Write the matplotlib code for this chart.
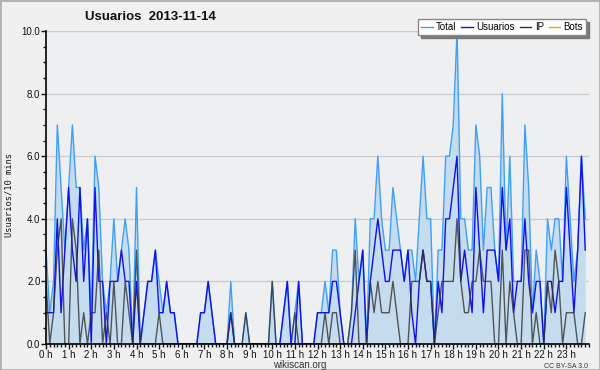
import numpy as np
import matplotlib.pyplot as plt
from matplotlib.ticker import MultipleLocator
from matplotlib.patches import Rectangle
from matplotlib.lines import Line2D

plt.rcParams['font.family'] = ['Liberation Sans', 'DejaVu Sans']

# values every 10 minutes, 144 slots
total = [3, 1, 2, 7, 5, 3, 5, 7, 5, 5, 3, 4, 1, 6, 5, 2, 1, 2, 4, 2, 3, 4, 3, 0,
         5, 0, 1, 2, 2, 3, 2, 1, 2, 1, 1, 0, 0, 0, 0, 0, 0, 1, 1, 2, 1, 0, 0, 0,
         0, 2, 0, 0, 0, 1, 0, 0, 0, 0, 0, 0, 2, 0, 0, 1, 2, 0, 1, 2, 0, 0, 0, 0,
         1, 1, 2, 1, 3, 3, 1, 0, 0, 1, 4, 2, 3, 0, 4, 4, 6, 4, 3, 3, 5, 4, 3, 2,
         3, 3, 2, 4, 6, 4, 4, 0, 3, 3, 6, 6, 7, 10, 4, 4, 3, 3, 7, 6, 3, 5, 5, 3,
         2, 8, 3, 6, 2, 2, 2, 7, 5, 1, 3, 2, 0, 4, 3, 4, 4, 2, 6, 4, 2, 3, 6, 4]
usuarios = [1, 1, 1, 4, 1, 3, 5, 3, 2, 5, 2, 4, 0, 5, 2, 2, 0, 2, 2, 2, 3, 2, 2, 0,
            2, 0, 1, 2, 2, 3, 1, 1, 2, 1, 1, 0, 0, 0, 0, 0, 0, 1, 1, 2, 1, 0, 0, 0,
            0, 1, 0, 0, 0, 0, 0, 0, 0, 0, 0, 0, 0, 0, 0, 1, 2, 0, 0, 2, 0, 0, 0, 0,
            1, 1, 1, 1, 2, 2, 1, 0, 0, 0, 1, 2, 3, 0, 2, 3, 4, 3, 2, 2, 3, 3, 3, 2,
            3, 1, 0, 2, 3, 2, 2, 0, 2, 1, 4, 4, 5, 6, 2, 3, 2, 1, 5, 3, 1, 3, 3, 3,
            2, 5, 3, 4, 1, 2, 2, 4, 2, 1, 2, 2, 0, 2, 2, 1, 2, 2, 5, 3, 1, 3, 6, 3]
ip = [2, 0, 1, 3, 4, 0, 0, 4, 3, 0, 1, 0, 1, 1, 3, 0, 1, 0, 2, 0, 0, 2, 1, 0,
      3, 0, 0, 0, 0, 0, 1, 0, 0, 0, 0, 0, 0, 0, 0, 0, 0, 0, 0, 0, 0, 0, 0, 0,
      0, 1, 0, 0, 0, 1, 0, 0, 0, 0, 0, 0, 2, 0, 0, 0, 0, 0, 1, 0, 0, 0, 0, 0,
      0, 0, 1, 0, 1, 1, 0, 0, 0, 1, 3, 0, 0, 0, 2, 1, 2, 1, 1, 1, 2, 1, 0, 0,
      0, 2, 2, 2, 3, 2, 2, 0, 1, 2, 2, 2, 2, 4, 2, 1, 1, 2, 2, 3, 2, 2, 2, 0,
      0, 3, 0, 2, 1, 0, 0, 3, 3, 0, 1, 0, 0, 2, 1, 3, 2, 0, 1, 1, 1, 0, 0, 1]
bots = [0] * 144
hour_labels = ['%d h' % h for h in range(24)]

x = np.arange(len(total))

fig = plt.figure(figsize=(6, 3.7), dpi=100, facecolor='#f0f0f0')
ax = fig.add_axes([46/600, 1-344/370, 543/600, 313/370])
ax.set_facecolor('#eeeff1')

ax.fill_between(x, total, color='#c5dcef', lw=0)
ax.plot(x, bots, color='#ff9900', lw=1, zorder=1)
ax.plot(x, total, color='#40a0f8', lw=1)
ax.plot(x, usuarios, color='#1010f0', lw=1)
ax.plot(x, ip, color='#333333', lw=1, alpha=0.8)

ax.set_xlim(0, 144)
ax.set_ylim(0, 10)
ax.set_xticks(np.arange(0, 144, 6))
ax.set_xticklabels(hour_labels)
ax.xaxis.set_minor_locator(MultipleLocator(1))
ax.set_yticks(np.arange(0, 11, 2))
ax.set_yticklabels(['%.1f' % v for v in range(0, 11, 2)])
ax.yaxis.set_minor_locator(MultipleLocator(0.5))
ax.tick_params(which='major', length=3.5, width=1, labelsize=7, pad=0.5, colors='#111111')
ax.tick_params(which='minor', length=2.5, width=1, colors='#111111')
ax.grid(axis='y', color='#cccccc', lw=1)
ax.set_axisbelow(True)
for s in ['top', 'right']:
    ax.spines[s].set_visible(False)
for s in ['left', 'bottom']:
    ax.spines[s].set_linewidth(1.2)
    ax.spines[s].set_zorder(5)

fig.text(85/600, 1-17/370, 'Usuarios  2013-11-14', fontsize=9.5, fontweight='bold',
         va='center', ha='left', color='#111111')
fig.text(9/600, 1-195/370, 'Usuarios/10 mins', rotation=90, family='DejaVu Sans Mono',
         fontsize=6.3, va='center', ha='center', color='#111111')
fig.text(300/600, 1-365.5/370, 'wikiscan.org', fontsize=7, ha='center', va='center', color='#333333')
fig.text(588/600, 1-366/370, 'CC BY-SA 3.0', fontsize=5, ha='right', va='center', color='#333333')

handles = [Line2D([], [], color='#40a0f8', lw=1),
           Line2D([], [], color='#1010f0', lw=1),
           Line2D([], [], color='#333333', lw=1),
           Line2D([], [], color='#ff9900', lw=1)]
fig.legend(handles, ['Total', 'Usuarios', 'IP', 'Bots'], ncol=4, loc='upper right',
           bbox_to_anchor=(586/600, 1-19/370), fontsize=7, frameon=True, fancybox=False,
           edgecolor='#888888', facecolor='white', framealpha=1,
           shadow={'color': '#7a7a7a', 'alpha': 1, 'ox': 2, 'oy': -2},
           handlelength=1.2, handletextpad=0.35, columnspacing=0.5, borderpad=0.3,
           borderaxespad=0)

fig.patches.append(Rectangle((0, 0), 1, 1, transform=fig.transFigure, fill=False,
                             edgecolor='#b0b0b0', lw=2))

fig.savefig('out.png', dpi=100, facecolor=fig.get_facecolor())
